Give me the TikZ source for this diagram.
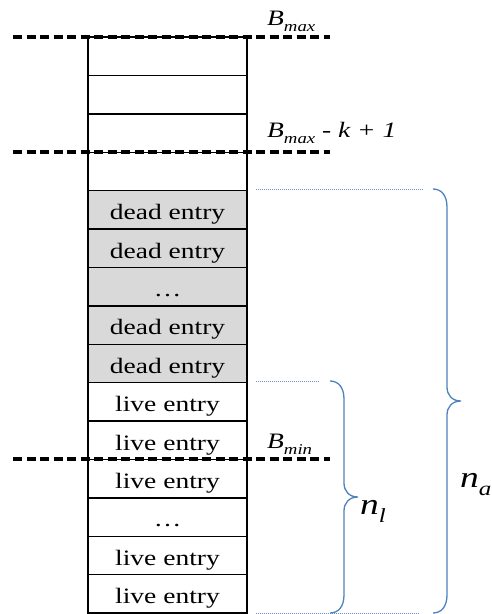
\documentclass[tikz,border=0pt]{standalone}
\usepackage{fontspec}
\setmainfont{Liberation Serif}
\definecolor{cellgray}{HTML}{D9D9D9}
\definecolor{braceblue}{HTML}{4F81BD}
\definecolor{dotblue}{HTML}{6A93CC}
% text set slightly wide
\newcommand{\wide}[1]{\scalebox{1.25}[1]{#1}}
% italic symbol with a lowered italic index
\newcommand{\symsub}[4]{\wide{\fontsize{#1}{#1}\selectfont\itshape #2\raisebox{-0.28em}{\fontsize{#3}{#3}\selectfont #4}}}
\tikzset{
  cell/.style={draw, line width=1.4pt, minimum width=159pt, minimum height=38.4pt,
    inner sep=0pt, text height=29pt, text depth=9.4pt,
    font=\fontsize{22}{22}\selectfont, anchor=center},
  deadcell/.style={cell, fill=cellgray},
  bound/.style={line width=3.2pt, dash pattern=on 9pt off 4.5pt},
  guide/.style={dotblue, line width=0.9pt, dash pattern=on 1pt off 1pt},
  bracepath/.style={braceblue, line width=1.3pt},
  lbl/.style={inner sep=0pt, anchor=base west}
}
\begin{document}
\begin{tikzpicture}[x=1pt, y=-1pt]
\useasboundingbox (0,0) rectangle (492,614);
% stack of entries, top to bottom
\foreach \i/\t/\s in {1//cell, 2//cell, 3//cell, 4//cell,
  5/dead entry/deadcell, 6/dead entry/deadcell, 7/\dots/deadcell,
  8/dead entry/deadcell, 9/dead entry/deadcell,
  10/live entry/cell, 11/live entry/cell, 12/live entry/cell,
  13/\dots/cell, 14/live entry/cell, 15/live entry/cell}
  \node[\s] (c\i) at (167.5, {37+38.4*(\i-0.5)}) {\wide{\t}};

% boundary levels
\coordinate (bmaxL) at (13,37);   \coordinate (bmaxR) at (330,37);
\coordinate (bkL) at (13,152);    \coordinate (bkR) at (330,152);
\coordinate (bminL) at (13,459);  \coordinate (bminR) at (330,459);
\draw[bound] (bmaxL) -- (bmaxR);
\draw[bound] (bkL) -- (bkR);
\draw[bound] (bminL) -- (bminR);

\node[lbl] (lbmax) at (267,25) {\symsub{22}{B}{15}{max}};
\node[lbl] (lbk) at (267,137) {\symsub{22}{B}{15}{max}\wide{\fontsize{22}{22}\selectfont\itshape\ - k + 1}};
\node[lbl] (lbmin) at (267,448) {\symsub{22}{B}{15}{min}};

% guide lines marking the counted ranges
\coordinate (gaL) at (256,189); \coordinate (gaR) at (423,189);
\coordinate (glL) at (256,381); \coordinate (glR) at (320,381);
\coordinate (gbL) at (256,613); \coordinate (gbR) at (420,613);
\draw[guide] (gaL) -- (gaR);
\draw[guide] (glL) -- (glR);
\draw[guide] (gbL) -- (gbR);

% brace over all allocated entries
\coordinate (naT) at (433,189); \coordinate (naTip) at (461,401); \coordinate (naB) at (433,613);
\draw[bracepath] (naT) .. controls (441,189) and (447,195) .. (447,207)
  -- (447,387) .. controls (447,395) and (452,401) .. (naTip)
  .. controls (452,401) and (447,407) .. (447,415)
  -- (447,595) .. controls (447,607) and (441,613) .. (naB);
% brace over live entries
\coordinate (nlT) at (330,381); \coordinate (nlTip) at (358,497); \coordinate (nlB) at (330,613);
\draw[bracepath] (nlT) .. controls (338,381) and (344,387) .. (344,399)
  -- (344,483) .. controls (344,491) and (349,497) .. (nlTip)
  .. controls (349,497) and (344,503) .. (344,511)
  -- (344,595) .. controls (344,607) and (338,613) .. (nlB);

\node[lbl] (lnl) at (360,514) {\symsub{30}{n}{20}{l}};
\node[lbl] (lna) at (460,487) {\symsub{30}{n}{20}{a}};
\end{tikzpicture}
\end{document}
